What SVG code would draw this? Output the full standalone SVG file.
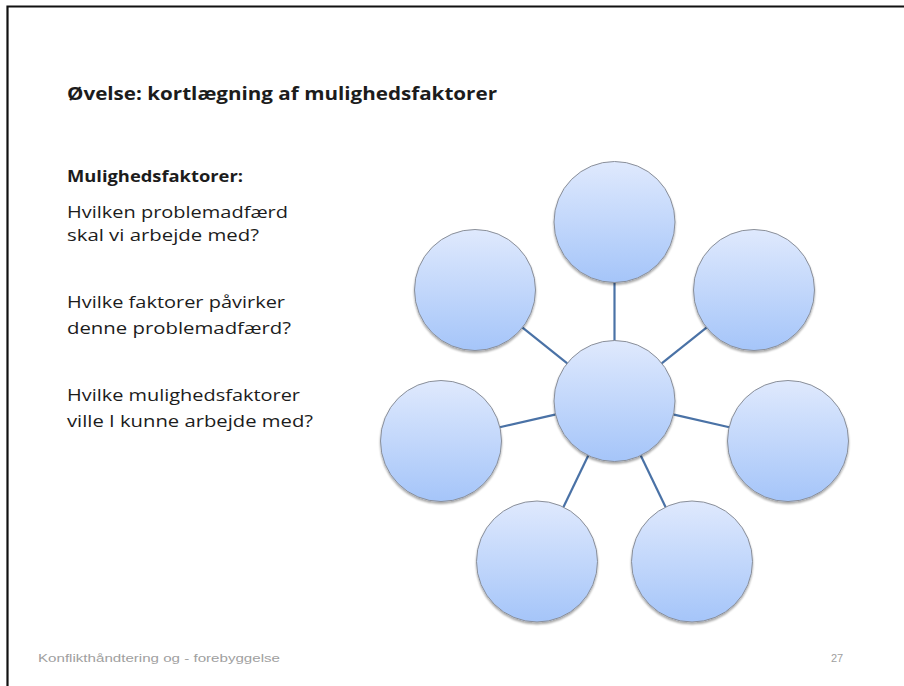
<svg xmlns="http://www.w3.org/2000/svg" width="904" height="686" viewBox="0 0 904 686">
<defs>
<linearGradient id="g" x1="0" y1="0" x2="0" y2="1">
<stop offset="0" stop-color="#dfe9fd"/>
<stop offset="1" stop-color="#a5c5f9"/>
</linearGradient>
<filter id="sh" x="-20%" y="-20%" width="140%" height="140%">
<feGaussianBlur in="SourceAlpha" stdDeviation="1.2"/>
<feOffset dx="0" dy="1.5"/>
<feComponentTransfer><feFuncA type="linear" slope="0.35"/></feComponentTransfer>
<feMerge><feMergeNode/><feMergeNode in="SourceGraphic"/></feMerge>
</filter>
</defs>
<style>
.n{fill:url(#g);stroke:#8a8f99;stroke-width:1;filter:url(#sh)}
.c line{stroke:#4a72a6;stroke-width:2.2}
.t{font-family:"Open Sans","Liberation Sans",sans-serif;fill:#1c1c1c}
.b{font-weight:bold}
.f{font-family:"Liberation Sans",sans-serif;fill:#a0a0a0;font-size:11px}
</style>
<rect x="0" y="0" width="904" height="686" fill="#ffffff"/>
<path d="M7.5,686 V6.5 H904" fill="none" stroke="#111" stroke-width="2.2"/>
<text class="t b" x="67" y="100" font-size="17" textLength="430" lengthAdjust="spacingAndGlyphs">Øvelse: kortlægning af mulighedsfaktorer</text>
<g id="texts">
<text class="t b" x="67" y="182" font-size="16" textLength="176" lengthAdjust="spacingAndGlyphs">Mulighedsfaktorer:</text>
<text class="t" x="67" y="218" font-size="17" textLength="221" lengthAdjust="spacingAndGlyphs">Hvilken problemadfærd</text>
<text class="t" x="67" y="241" font-size="17" textLength="192" lengthAdjust="spacingAndGlyphs">skal vi arbejde med?</text>
<text class="t" x="67" y="308" font-size="17" textLength="218" lengthAdjust="spacingAndGlyphs">Hvilke faktorer påvirker</text>
<text class="t" x="67" y="334" font-size="17" textLength="224" lengthAdjust="spacingAndGlyphs">denne problemadfærd?</text>
<text class="t" x="67" y="401" font-size="17" textLength="233" lengthAdjust="spacingAndGlyphs">Hvilke mulighedsfaktorer</text>
<text class="t" x="67" y="427" font-size="17" textLength="246" lengthAdjust="spacingAndGlyphs">ville I kunne arbejde med?</text>
</g>
<g id="connectors" class="c">
<line x1="614.5" y1="341" x2="614.5" y2="282"/>
<line x1="661.4" y1="363.6" x2="708.3" y2="326.2"/>
<line x1="673" y1="414.4" x2="731.5" y2="427.8"/>
<line x1="640.5" y1="455" x2="666.5" y2="509"/>
<line x1="588.5" y1="455" x2="562.5" y2="509"/>
<line x1="556" y1="414.4" x2="497.5" y2="427.8"/>
<line x1="567.6" y1="363.6" x2="520.7" y2="326.2"/>
</g>
<g id="n0"><circle class="n" cx="614.5" cy="222" r="60.5"/></g>
<g id="n1"><circle class="n" cx="754" cy="290" r="60.5"/></g>
<g id="n2"><circle class="n" cx="788" cy="441" r="60.5"/></g>
<g id="n3"><circle class="n" cx="692" cy="561.5" r="60.5"/></g>
<g id="n4"><circle class="n" cx="537" cy="561.5" r="60.5"/></g>
<g id="n5"><circle class="n" cx="441" cy="441" r="60.5"/></g>
<g id="n6"><circle class="n" cx="475" cy="290" r="60.5"/></g>
<g id="center"><circle class="n" cx="614.5" cy="401" r="60.5"/></g>
<text class="f" x="38" y="662" textLength="242" lengthAdjust="spacingAndGlyphs">Konflikthåndtering   og - forebyggelse</text>
<text class="f" x="831" y="662">27</text>
</svg>
